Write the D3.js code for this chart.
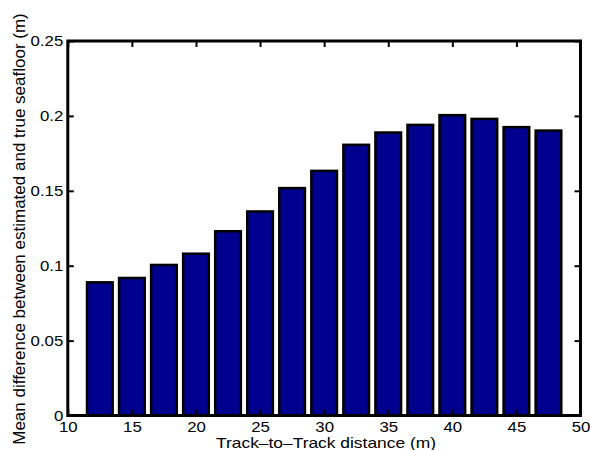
<!DOCTYPE html>
<html><head><meta charset="utf-8">
<script src="https://cdn.jsdelivr.net/npm/d3@7"></script>
<style>body{margin:0;background:#fff}svg{display:block}text{font-family:"Liberation Sans",Helvetica,Arial,sans-serif}</style>
</head><body><svg id="c" width="590" height="450"></svg>
<script>
const distances = [12.5, 15, 17.5, 20, 22.5, 25, 27.5, 30, 32.5, 35, 37.5, 40, 42.5, 45, 47.5];
const meanDiff = [0.0889, 0.0918, 0.1005, 0.108, 0.123, 0.1362, 0.1518, 0.1633, 0.1807, 0.1889, 0.194, 0.2005, 0.198, 0.1925, 0.1902];
const xTicks = [10, 15, 20, 25, 30, 35, 40, 45, 50];
const yTicks = [0, 0.05, 0.1, 0.15, 0.2, 0.25];
const yTickLabels = ["0", "0.05", "0.1", "0.15", "0.2", "0.25"];

const svg = d3.select("#c");
const L = 67.8, R = 580.5, T = 41, B = 415.5;
const x = d3.scaleLinear().domain([10, 50]).range([L, R]);
const y = d3.scaleLinear().domain([0, 0.25]).range([B, T]);
const bw = x(12) - x(10);

svg.append("g").selectAll("rect").data(distances).join("rect")
  .attr("x", (d) => x(d) - bw / 2)
  .attr("width", bw)
  .attr("y", (d, i) => y(meanDiff[i]))
  .attr("height", (d, i) => y(0) - y(meanDiff[i]))
  .attr("fill", "#00008F").attr("stroke", "#000").attr("stroke-width", 2.5);

const tl = 6;
const fs = "14px";
const gb = svg.append("g").attr("transform", `translate(0,${B})`)
  .call(d3.axisBottom(x).tickValues(xTicks).tickSize(-tl).tickPadding(0).tickFormat(d3.format("d")));
const gt = svg.append("g").attr("transform", `translate(0,${T})`)
  .call(d3.axisTop(x).tickValues(xTicks).tickSize(-tl).tickFormat(""));
const gl = svg.append("g").attr("transform", `translate(${L},0)`)
  .call(d3.axisLeft(y).tickValues(yTicks).tickSize(-tl).tickPadding(0).tickFormat((d, i) => yTickLabels[i]));
const gr = svg.append("g").attr("transform", `translate(${R},0)`)
  .call(d3.axisRight(y).tickValues(yTicks).tickSize(-tl).tickFormat(""));

[gb, gt, gl, gr].forEach(g => {
  g.select(".domain").remove();
  g.selectAll(".tick line").attr("stroke", "#000").attr("stroke-width", 2);
  g.selectAll("text").attr("fill", "#000").style("font-size", fs);
});
gb.selectAll(".tick text").attr("y", 0).attr("dy", 0)
  .attr("transform", "translate(0,16.5) scale(1.2,1)");
gl.selectAll(".tick text").attr("x", 0).attr("dy", "0.35em")
  .attr("transform", "translate(-4.5,0) scale(1.2,1)");

svg.append("rect").attr("x", L).attr("y", T).attr("width", R - L).attr("height", B - T)
  .attr("fill", "none").attr("stroke", "#000").attr("stroke-width", 3);

svg.append("text").attr("transform", "translate(326,448) scale(1.16,1)").attr("text-anchor", "middle")
  .style("font-size", "15px").text("Track–to–Track distance (m)");
svg.append("text").attr("transform", "translate(25,229) rotate(-90)").attr("text-anchor", "middle")
  .style("font-size", "17px").text("Mean difference between estimated and true seafloor (m)");
</script></body></html>
